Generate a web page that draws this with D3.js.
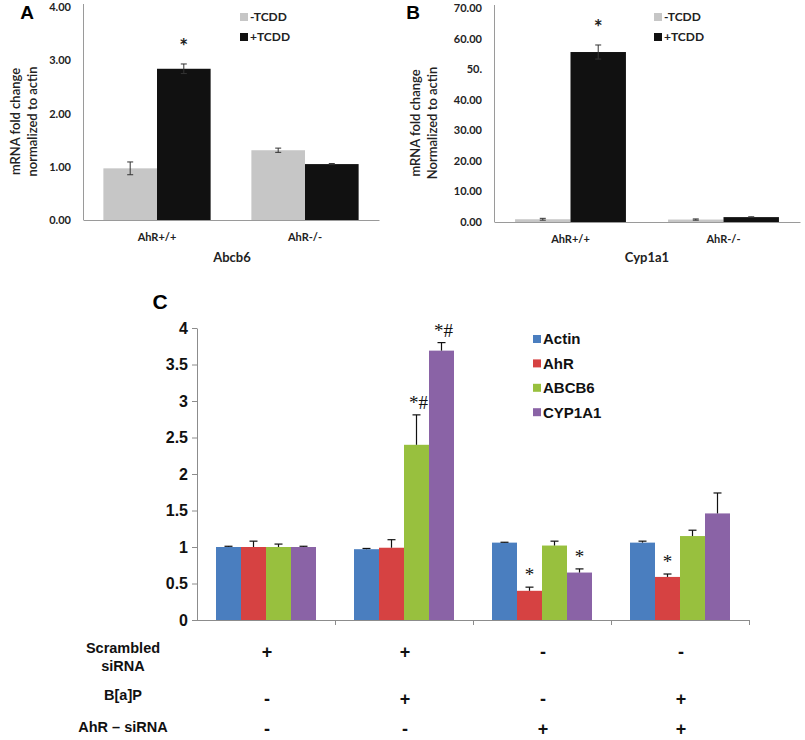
<!DOCTYPE html>
<html>
<head>
<meta charset="utf-8">
<script src="https://cdn.jsdelivr.net/npm/d3@7"></script>
<style>
  body { margin: 0; background: #fff; }
  svg { display: block; }
  .ab text { font-family: Lato, "Open Sans", sans-serif; font-weight: bold; fill: #222; }
  .c text { font-family: "Liberation Sans", Arial, sans-serif; font-weight: bold; fill: #111; }
</style>
</head>
<body>
<svg width="805" height="740"></svg>
<script>
// panel A / B data
const genotypes = ["AhR+/+", "AhR-/-"];
const tcdd = ["-TCDD", "+TCDD"];
const abcb6Minus = [0.97, 1.31];
const abcb6MinusErr = [0.12, 0.04];
const abcb6Plus = [2.84, 1.05];
const abcb6PlusErr = [0.09, 0.01];
const abcb6Stars = ["*", ""];          // on +TCDD bars
const aTicks = [0, 1, 2, 3, 4];
const aTickLabels = ["0.00", "1.00", "2.00", "3.00", "4.00"];

const cypMinus = [0.9, 0.8];
const cypMinusErr = [0.3, 0.2];
const cypPlus = [55.6, 1.6];
const cypPlusErr = [2.3, 0.1];
const cypStars = ["*", ""];
const bTicks = [0, 10, 20, 30, 40, 50, 60, 70];
const bTickLabels = ["0.00", "10.00", "20.00", "30.00", "40.00", "50.", "60.00", "70.00"];

// panel C data
const conditions = ["c1", "c2", "c3", "c4"];
const genes = ["Actin", "AhR", "ABCB6", "CYP1A1"];
const geneColors = ["#4a7ebf", "#d64242", "#98c03e", "#8a63a6"];
const actinVals = [1.0, 0.97, 1.06, 1.06];
const actinErr = [0.01, 0.01, 0.005, 0.02];
const ahrVals = [1.0, 0.99, 0.40, 0.59];
const ahrErr = [0.08, 0.11, 0.05, 0.04];
const abcb6Vals = [1.0, 2.40, 1.02, 1.15];
const abcb6Err = [0.04, 0.41, 0.06, 0.08];
const cyp1a1Vals = [1.0, 3.69, 0.65, 1.46];
const cyp1a1Err = [0.01, 0.11, 0.05, 0.28];
const actinMarks = ["", "", "", ""];
const ahrMarks = ["", "", "*", "*"];
const abcb6Marks = ["", "*#", "", ""];
const cyp1a1Marks = ["", "*#", "*", ""];
const cTicks = [0, 0.5, 1, 1.5, 2, 2.5, 3, 3.5, 4];
const cTickLabels = ["0", "0.5", "1", "1.5", "2", "2.5", "3", "3.5", "4"];
const rowLabels = [["Scrambled", "siRNA"], ["B[a]P"], ["AhR \u2013 siRNA"]];
const scrambled = ["+", "+", "-", "-"];
const bap = ["-", "+", "-", "+"];
const ahrSirna = ["-", "-", "+", "+"];

const svg = d3.select("svg");

// two-series grey/black chart used for A and B
const tcddPanel = (selection, props) => {
  const { letter, letterX, labelX, xRange, yDomain, yRange, ticks, tickLabels,
          minus, minusErr, plus, plusErr, stars, yLabel, title, titleX,
          legendX, legendY } = props;

  const g = selection.append("g").attr("class", "ab");
  const x0 = d3.scaleBand().domain(genotypes).range(xRange);
  const x1 = d3.scaleBand().domain(tcdd).range([0, x0.bandwidth()]).paddingOuter(0.38);
  const y = d3.scaleLinear().domain(yDomain).range(yRange);
  const colour = d3.scaleOrdinal().domain(tcdd).range(["#c6c6c6", "#111"]);

  const rows = genotypes.map((k, i) => ({
    key: k,
    bars: [
      { s: tcdd[0], v: minus[i], e: minusErr[i], star: "" },
      { s: tcdd[1], v: plus[i], e: plusErr[i], star: stars[i] }
    ]
  }));

  const yAxis = d3.axisLeft(y).tickValues(ticks)
    .tickFormat((d, i) => tickLabels[i]).tickSize(0).tickPadding(12);
  const yG = g.append("g").attr("transform", `translate(${xRange[0]},0)`).call(yAxis);
  yG.select(".domain").attr("stroke", "#9a9a9a").attr("d", `M0.5,${yRange[0]}V${yRange[1] - 3}`);
  yG.selectAll("text").style("font-size", "11px");

  const xAxis = d3.axisBottom(x0).tickSize(0).tickPadding(13);
  const xG = g.append("g").attr("transform", `translate(0,${yRange[0]})`).call(xAxis);
  xG.select(".domain").attr("stroke", "#9a9a9a");
  xG.selectAll("text").style("font-size", "11px");

  const grp = g.selectAll(".grp").data(rows).enter().append("g")
    .attr("transform", d => `translate(${x0(d.key)},0)`);

  grp.selectAll("rect").data(d => d.bars).enter().append("rect")
    .attr("x", d => x1(d.s))
    .attr("width", x1.bandwidth())
    .attr("y", d => y(d.v))
    .attr("height", d => y(0) - y(d.v))
    .attr("fill", d => colour(d.s));

  const eb = grp.selectAll(".eb").data(d => d.bars).enter().append("g")
    .attr("transform", d => `translate(${x1(d.s) + x1.bandwidth() / 2},0)`)
    .attr("stroke", "#333").attr("stroke-width", 1);
  eb.append("line").attr("y1", d => y(d.v - d.e)).attr("y2", d => y(d.v + d.e));
  eb.append("line").attr("x1", -3).attr("x2", 3).attr("y1", d => y(d.v + d.e)).attr("y2", d => y(d.v + d.e));
  eb.append("line").attr("x1", -3).attr("x2", 3).attr("y1", d => y(d.v - d.e)).attr("y2", d => y(d.v - d.e));

  grp.selectAll(".star").data(d => d.bars.filter(b => b.star)).enter().append("text")
    .attr("x", d => x1(d.s) + x1.bandwidth() / 2)
    .attr("y", d => y(d.v + d.e) - 10)
    .attr("text-anchor", "middle")
    .style("font-size", "21px")
    .text(d => d.star);

  // legend
  const lg = g.selectAll(".lg").data(tcdd).enter().append("g")
    .attr("transform", (d, i) => `translate(${legendX},${legendY + i * 20})`);
  lg.append("rect").attr("x", 0).attr("y", -4).attr("width", 8).attr("height", 8).attr("fill", d => colour(d));
  lg.append("text").attr("x", 10).attr("dy", "0.35em").style("font-size", "12px").text(d => d);

  yLabel.forEach((t, i) => {
    g.append("text")
      .attr("transform", `translate(${labelX + i * 17},${(yRange[0] + yRange[1]) / 2 + 8}) rotate(-90)`)
      .attr("text-anchor", "middle").attr("dy", "0.35em")
      .style("font-size", "13px").style("font-weight", "600")
      .text(t);
  });

  g.append("text").attr("x", titleX).attr("y", 262).attr("text-anchor", "middle")
    .style("font-size", "13px").text(title);

  g.append("text").attr("x", letterX).attr("y", 19).attr("text-anchor", "middle")
    .style("font-family", "'Liberation Sans', Arial, sans-serif")
    .style("font-size", "19px").style("fill", "#000").text(letter);
};

svg.call(tcddPanel, {
  letter: "A", letterX: 27, labelX: 15,
  xRange: [83, 379], yDomain: [0, 4], yRange: [220, 7],
  ticks: aTicks, tickLabels: aTickLabels,
  minus: abcb6Minus, minusErr: abcb6MinusErr, plus: abcb6Plus, plusErr: abcb6PlusErr,
  stars: abcb6Stars, yLabel: ["mRNA fold change", "normalized to actin"],
  title: "Abcb6", titleX: 232, legendX: 240, legendY: 17
});

svg.call(tcddPanel, {
  letter: "B", letterX: 413, labelX: 415,
  xRange: [494, 800], yDomain: [0, 70], yRange: [222, 8],
  ticks: bTicks, tickLabels: bTickLabels,
  minus: cypMinus, minusErr: cypMinusErr, plus: cypPlus, plusErr: cypPlusErr,
  stars: cypStars, yLabel: ["mRNA fold change", "Normalized to actin"],
  title: "Cyp1a1", titleX: 647, legendX: 654, legendY: 17
});

// ---- panel C ----
const gc = svg.append("g").attr("class", "c");
const xc = d3.scaleBand().domain(conditions).range([197, 749]);
const xg = d3.scaleBand().domain(genes).range([0, xc.bandwidth()]).paddingOuter(0.76);
const yc = d3.scaleLinear().domain([0, 4]).range([620, 328]);
const gcol = d3.scaleOrdinal().domain(genes).range(geneColors);

const series = [
  [actinVals, actinErr, actinMarks],
  [ahrVals, ahrErr, ahrMarks],
  [abcb6Vals, abcb6Err, abcb6Marks],
  [cyp1a1Vals, cyp1a1Err, cyp1a1Marks]
];
const cRows = conditions.map((c, i) => ({
  key: c,
  bars: genes.map((gn, j) => ({ gene: gn, v: series[j][0][i], e: series[j][1][i], mark: series[j][2][i] }))
}));

const ycAxis = d3.axisLeft(yc).tickValues(cTicks).tickFormat((d, i) => cTickLabels[i])
  .tickSize(5).tickSizeOuter(0).tickPadding(4);
const ycG = gc.append("g").attr("transform", "translate(197,0)").call(ycAxis);
ycG.select(".domain").attr("stroke", "#8c8c8c");
ycG.selectAll(".tick line").attr("stroke", "#8c8c8c");
ycG.selectAll("text").style("font-size", "16px").style("fill", "#111");

// category axis: ticks on band boundaries
const bounds = d3.range(conditions.length + 1).map(i => xc.range()[0] + i * xc.step());
gc.append("line").attr("x1", bounds[0]).attr("x2", bounds[bounds.length - 1])
  .attr("y1", yc(0) + 0.5).attr("y2", yc(0) + 0.5).attr("stroke", "#8c8c8c");
gc.selectAll(".btick").data(bounds.slice(1)).enter().append("line")
  .attr("x1", d => d + 0.5).attr("x2", d => d + 0.5)
  .attr("y1", yc(0)).attr("y2", yc(0) + 5).attr("stroke", "#8c8c8c");

const cg = gc.selectAll(".cg").data(cRows).enter().append("g")
  .attr("transform", d => `translate(${xc(d.key)},0)`);

cg.selectAll("rect").data(d => d.bars).enter().append("rect")
  .attr("x", d => xg(d.gene))
  .attr("width", xg.bandwidth())
  .attr("y", d => yc(d.v))
  .attr("height", d => yc(0) - yc(d.v))
  .attr("fill", d => gcol(d.gene));

const ceb = cg.selectAll(".ceb").data(d => d.bars).enter().append("g")
  .attr("transform", d => `translate(${xg(d.gene) + xg.bandwidth() / 2},0)`)
  .attr("stroke", "#111").attr("stroke-width", 1.2);
ceb.append("line").attr("y1", d => yc(d.v)).attr("y2", d => yc(d.v + d.e));
ceb.append("line").attr("x1", -4).attr("x2", 4).attr("y1", d => yc(d.v + d.e)).attr("y2", d => yc(d.v + d.e));

cg.selectAll(".mk").data(d => d.bars.filter(b => b.mark)).enter().append("text")
  .attr("x", d => xg(d.gene) + xg.bandwidth() / 2 + (d.mark.length > 1 ? 2 : 0))
  .attr("y", d => yc(d.v + d.e) - 6)
  .attr("text-anchor", "middle")
  .style("font-family", "'Liberation Serif', 'Times New Roman', serif")
  .style("font-weight", "normal")
  .style("font-size", "19px")
  .text(d => d.mark);

// legend
const clg = gc.selectAll(".clg").data(genes).enter().append("g")
  .attr("transform", (d, i) => `translate(533,${339 + i * 24.4})`);
clg.append("rect").attr("y", -4).attr("width", 8).attr("height", 8).attr("fill", d => gcol(d));
clg.append("text").attr("x", 10).attr("dy", "0.36em").style("font-size", "15px").text(d => d);

// treatment table
const rowY = [652, 699, 729];
const labelY = [[648, 666], [695], [727]];
rowLabels.forEach((lines, r) => {
  lines.forEach((t, k) => {
    gc.append("text").attr("x", 123).attr("y", labelY[r][k]).attr("dy", "0.35em")
      .attr("text-anchor", "middle").style("font-size", "14.5px").text(t);
  });
});
[scrambled, bap, ahrSirna].forEach((row, r) => {
  gc.selectAll(".sg" + r).data(row).enter().append("text")
    .attr("x", (d, i) => xc(conditions[i]) + xc.bandwidth() / 2 + 1)
    .attr("y", rowY[r]).attr("dy", "0.35em")
    .attr("text-anchor", "middle").style("font-size", "18px")
    .text(d => d);
});

gc.append("text").attr("x", 160).attr("y", 302).attr("dy", "0.35em")
  .attr("text-anchor", "middle").style("font-size", "21px").style("fill", "#000").text("C");
</script>
</body>
</html>
